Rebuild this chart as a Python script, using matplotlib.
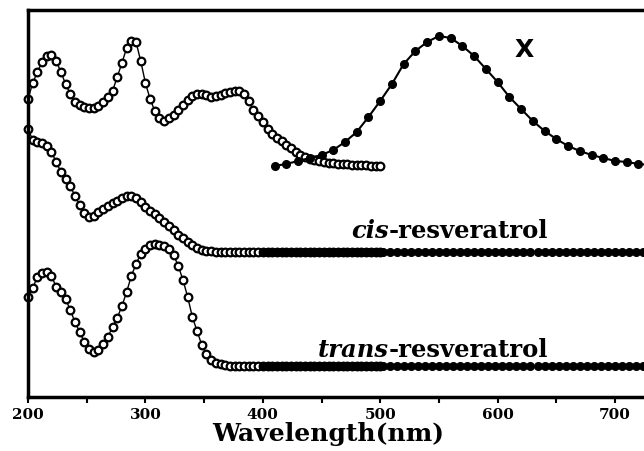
import numpy as np
import matplotlib.pyplot as plt

# wavelength grids (nm)
wl_open = np.arange(200, 501, 4)
wl_x = np.arange(410, 731, 10)
wl_base = np.arange(400, 731, 6)

# stacked absorbance traces (a.u., offset)
top_open = [2.98, 3.14, 3.25, 3.35, 3.41, 3.42, 3.36, 3.25, 3.13, 3.03,
            2.95, 2.92, 2.90, 2.89, 2.89, 2.91, 2.95, 3.00, 3.06, 3.20,
            3.34, 3.49, 3.56, 3.55, 3.36, 3.14, 2.98, 2.86, 2.79, 2.76,
            2.79, 2.82, 2.87, 2.92, 2.97, 3.01, 3.03, 3.03, 3.02, 3.00,
            3.01, 3.02, 3.04, 3.05, 3.06, 3.06, 3.03, 2.96, 2.87, 2.81,
            2.75, 2.68, 2.63, 2.59, 2.56, 2.52, 2.49, 2.45, 2.42, 2.40,
            2.38, 2.37, 2.36, 2.35, 2.34, 2.34, 2.33, 2.33, 2.33, 2.32,
            2.32, 2.32, 2.32, 2.31, 2.31, 2.31]

cis_open = [2.68, 2.57, 2.55, 2.54, 2.51, 2.45, 2.35, 2.25, 2.18, 2.11,
            2.01, 1.92, 1.84, 1.80, 1.81, 1.85, 1.88, 1.91, 1.94, 1.96,
            1.99, 2.01, 2.01, 1.99, 1.95, 1.90, 1.86, 1.83, 1.79, 1.75,
            1.71, 1.67, 1.62, 1.59, 1.55, 1.52, 1.49, 1.47, 1.46, 1.455,
            1.45, 1.45, 1.45, 1.45, 1.45, 1.45, 1.45, 1.45, 1.45, 1.45,
            1.45, 1.45, 1.45, 1.45, 1.45, 1.45, 1.45, 1.45, 1.45, 1.45,
            1.45, 1.45, 1.45, 1.45, 1.45, 1.45, 1.45, 1.45, 1.45, 1.45,
            1.45, 1.45, 1.45, 1.45, 1.45, 1.45]

trans_open = [1.00, 1.09, 1.20, 1.24, 1.25, 1.21, 1.10, 1.05, 0.98, 0.87,
              0.75, 0.65, 0.55, 0.48, 0.45, 0.47, 0.53, 0.60, 0.70, 0.79,
              0.91, 1.05, 1.21, 1.33, 1.43, 1.48, 1.52, 1.53, 1.52, 1.51,
              1.48, 1.42, 1.31, 1.17, 1.00, 0.80, 0.66, 0.52, 0.43, 0.37,
              0.34, 0.33, 0.32, 0.31, 0.31, 0.31, 0.31, 0.31, 0.31, 0.31,
              0.31, 0.31, 0.31, 0.31, 0.31, 0.31, 0.31, 0.31, 0.31, 0.31,
              0.31, 0.31, 0.31, 0.31, 0.31, 0.31, 0.31, 0.31, 0.31, 0.31,
              0.31, 0.31, 0.31, 0.31, 0.31, 0.31]

x_band = [2.31, 2.33, 2.36, 2.39, 2.42, 2.47, 2.55, 2.65, 2.80, 2.96,
          3.13, 3.33, 3.46, 3.55, 3.61, 3.59, 3.51, 3.41, 3.28, 3.15,
          3.00, 2.88, 2.76, 2.66, 2.58, 2.51, 2.46, 2.42, 2.39, 2.36,
          2.35, 2.33, 2.32]

cis_base = [1.45, 1.45, 1.45, 1.45, 1.45, 1.45, 1.45, 1.45, 1.45, 1.45, 1.45, 1.45, 1.45, 1.45,
            1.45, 1.45, 1.45, 1.45, 1.45, 1.45, 1.45, 1.45, 1.45, 1.45, 1.45, 1.45, 1.45, 1.45,
            1.45, 1.45, 1.45, 1.45, 1.45, 1.45, 1.45, 1.45, 1.45, 1.45, 1.45, 1.45, 1.45, 1.45,
            1.45, 1.45, 1.45, 1.45, 1.45, 1.45, 1.45, 1.45, 1.45, 1.45, 1.45, 1.45, 1.45, 1.45]

trans_base = [0.31, 0.31, 0.31, 0.31, 0.31, 0.31, 0.31, 0.31, 0.31, 0.31, 0.31, 0.31, 0.31, 0.31,
              0.31, 0.31, 0.31, 0.31, 0.31, 0.31, 0.31, 0.31, 0.31, 0.31, 0.31, 0.31, 0.31, 0.31,
              0.31, 0.31, 0.31, 0.31, 0.31, 0.31, 0.31, 0.31, 0.31, 0.31, 0.31, 0.31, 0.31, 0.31,
              0.31, 0.31, 0.31, 0.31, 0.31, 0.31, 0.31, 0.31, 0.31, 0.31, 0.31, 0.31, 0.31, 0.31]

xticks = [200, 300, 400, 500, 600, 700]
minor_ticks = [250, 350, 450, 550, 650]

fig = plt.figure(figsize=(6.44, 4.52), dpi=100)
ax = fig.add_axes([0.0435, 0.1195, 0.9565, 0.8562])

open_style = dict(color='black', lw=1.0, marker='o', ms=5.5, mfc='white',
                  mec='black', mew=1.6, clip_on=False)
fill_style = dict(color='black', lw=1.5, marker='o', ms=5.5, clip_on=True)

ax.plot(wl_open, top_open, **open_style)
ax.plot(wl_open, cis_open, **open_style)
ax.plot(wl_open, trans_open, **open_style)
ax.plot(wl_x, x_band, **fill_style)
ax.plot(wl_base, cis_base, **fill_style)
ax.plot(wl_base, trans_base, **fill_style)

ax.set_xlim(200, 724.7)
ax.set_ylim(0, 3.87)
ax.set_xticks(xticks)
ax.set_xticks(minor_ticks, minor=True)
ax.set_yticks([])
for s in ['left', 'top', 'bottom']:
    ax.spines[s].set_linewidth(2.5)
ax.spines['right'].set_visible(False)
ax.tick_params(axis='x', which='both', direction='out', length=4, width=1.5, pad=3)
for lab in ax.get_xticklabels():
    lab.set_fontfamily('DejaVu Serif')
    lab.set_fontweight('bold')
    lab.set_fontsize(11)
ax.set_xlabel('Wavelength(nm)', family='DejaVu Serif', weight='bold', fontsize=18)
ax.xaxis.set_label_coords(0.487, -0.062)

ax.text(623, 3.48, 'X', family='DejaVu Sans', weight='bold', fontsize=18,
        ha='center', va='center')

t1 = ax.text(642.8, 1.60, '-resveratrol', family='DejaVu Serif', weight='bold',
             fontsize=17.5, ha='right', va='baseline')
ax.annotate('cis', xy=(0, 0), xycoords=t1, family='DejaVu Serif', weight='bold',
            style='italic', fontsize=17.5, ha='right', va='bottom')
t2 = ax.text(642.8, 0.41, '-resveratrol', family='DejaVu Serif', weight='bold',
             fontsize=17.5, ha='right', va='baseline')
ax.annotate('trans', xy=(0, 0), xycoords=t2, family='DejaVu Serif', weight='bold',
            style='italic', fontsize=17.5, ha='right', va='bottom')

fig.savefig('out.png', dpi=100)
